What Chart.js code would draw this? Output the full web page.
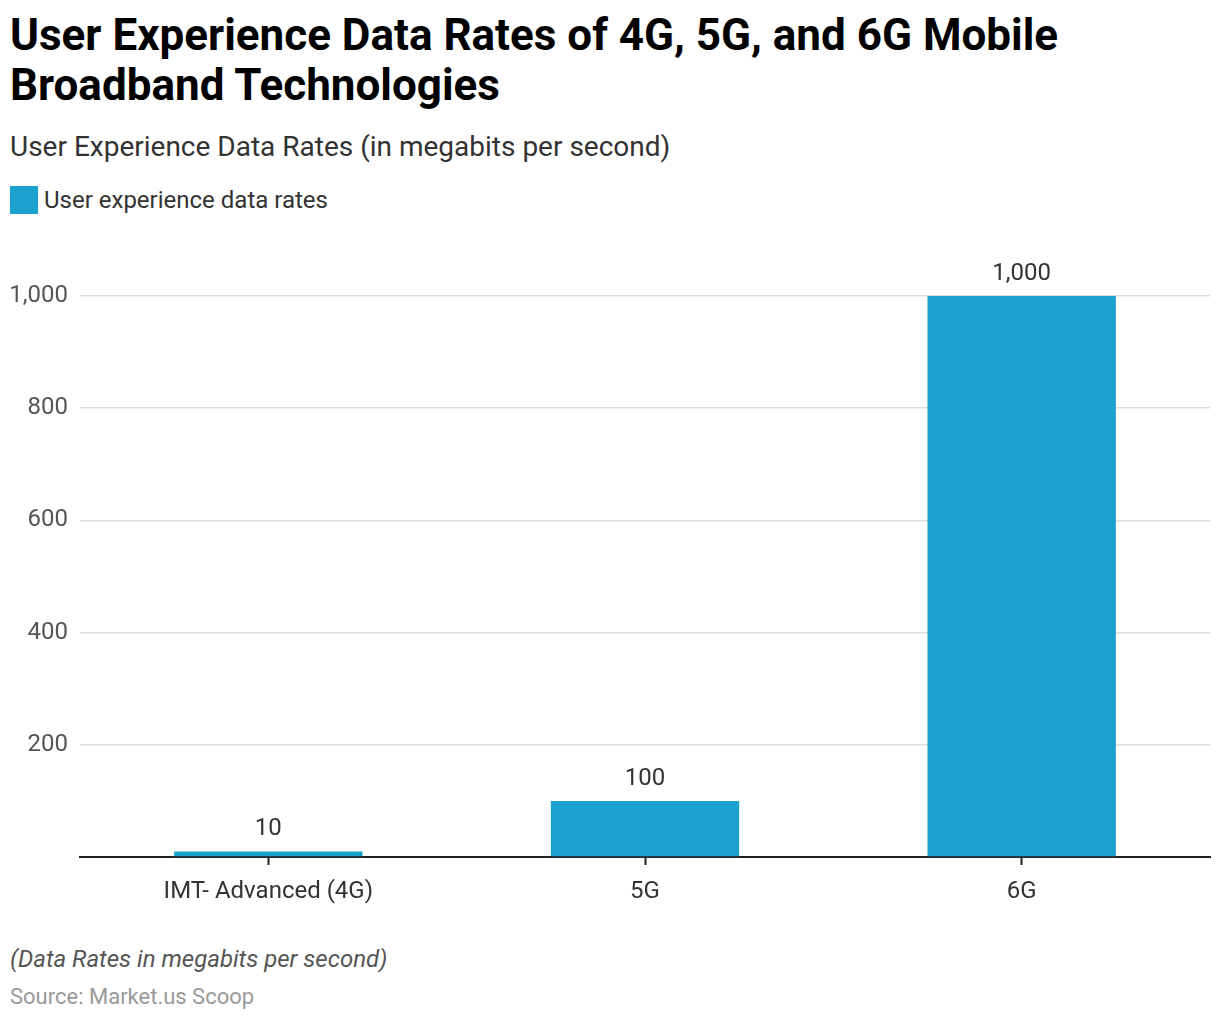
<!DOCTYPE html>
<html>
<head>
<meta charset="utf-8">
<script src="https://cdn.jsdelivr.net/npm/chart.js@4.4.1/dist/chart.umd.min.js"></script>
<style>
  body { margin: 0; background: #fff; font-family: Roboto, sans-serif; }
  #wrap { position: relative; width: 1220px; height: 1020px; overflow: hidden; }
  .title { position: absolute; left: 10px; top: 10px; font-size: 44px; font-weight: 700; line-height: 50px; color: #000; }
  .subtitle { position: absolute; left: 10px; top: 130px; font-size: 28px; color: #333; }
  .legend { position: absolute; left: 10px; top: 186px; font-size: 24px; color: #333; display: flex; align-items: center; }
  .legend span.sw { display: inline-block; width: 28px; height: 28px; background: #1aa1cd; margin-right: 6px; }
  .note { position: absolute; left: 10px; top: 945px; font-size: 24px; font-style: italic; color: #555; }
  .source { position: absolute; left: 10px; top: 984px; font-size: 22px; color: #999; }
  #chartBox { position: absolute; left: 0; top: 230px; width: 1220px; height: 680px; }
</style>
</head>
<body>
<div id="wrap">
  <div class="title">User Experience Data Rates of 4G, 5G, and 6G Mobile<br>Broadband Technologies</div>
  <div class="subtitle">User Experience Data Rates (in megabits per second)</div>
  <div class="legend"><span class="sw"></span>User experience data rates</div>
  <div id="chartBox"><canvas id="rateChart"></canvas></div>
  <div class="note">(Data Rates in megabits per second)</div>
  <div class="source">Source: Market.us Scoop</div>
</div>
<script>
// chart data
const categories = ['IMT- Advanced (4G)', '5G', '6G'];
const dataRates = [10, 100, 1000];
const yTicks = [0, 200, 400, 600, 800, 1000];

const barColor = '#1aa1cd';

// draws the value above each bar
const valueLabels = {
  id: 'valueLabels',
  afterDatasetsDraw(chart) {
    const ctx = chart.ctx;
    const meta = chart.getDatasetMeta(0);
    ctx.save();
    ctx.font = '24px Roboto';
    ctx.fillStyle = '#333';
    ctx.textAlign = 'center';
    ctx.textBaseline = 'bottom';
    meta.data.forEach(function(bar, i) {
      ctx.fillText(dataRates[i].toLocaleString('en-US'), bar.x, bar.y - 10);
    });
    ctx.restore();
  }
};

const ctx = document.getElementById('rateChart').getContext('2d');
new Chart(ctx, {
  type: 'bar',
  data: {
    labels: categories,
    datasets: [{
      label: 'User experience data rates',
      data: dataRates,
      backgroundColor: barColor,
      categoryPercentage: 1,
      barPercentage: 0.5
    }]
  },
  options: {
    responsive: true,
    maintainAspectRatio: false,
    animation: false,
    layout: { padding: { top: 66, right: 10, left: 0, bottom: 0 } },
    plugins: {
      legend: { display: false },
      tooltip: { enabled: false }
    },
    scales: {
      x: {
        grid: {
          offset: false,
          drawOnChartArea: false,
          drawTicks: true,
          tickLength: 8,
          tickColor: '#222',
          tickWidth: 2
        },
        border: { color: '#222', width: 2 },
        ticks: {
          color: '#333',
          font: { family: 'Roboto', size: 24 },
          padding: 13
        },
        afterFit: function(scale) { scale.height = 53; }
      },
      y: {
        min: 0,
        max: 1000,
        afterBuildTicks: function(scale) {
          scale.ticks = yTicks.map(function(v) { return { value: v }; });
        },
        grid: { color: '#dddddd', lineWidth: 1.5, drawTicks: false },
        border: { display: false },
        ticks: {
          color: '#555',
          padding: 12,
          font: { family: 'Roboto', size: 24 },
          callback: function(value) {
            return value === 0 ? '' : value.toLocaleString('en-US');
          }
        },
        afterFit: function(scale) { scale.width = 80; }
      }
    }
  },
  plugins: [valueLabels]
});
</script>
</body>
</html>
